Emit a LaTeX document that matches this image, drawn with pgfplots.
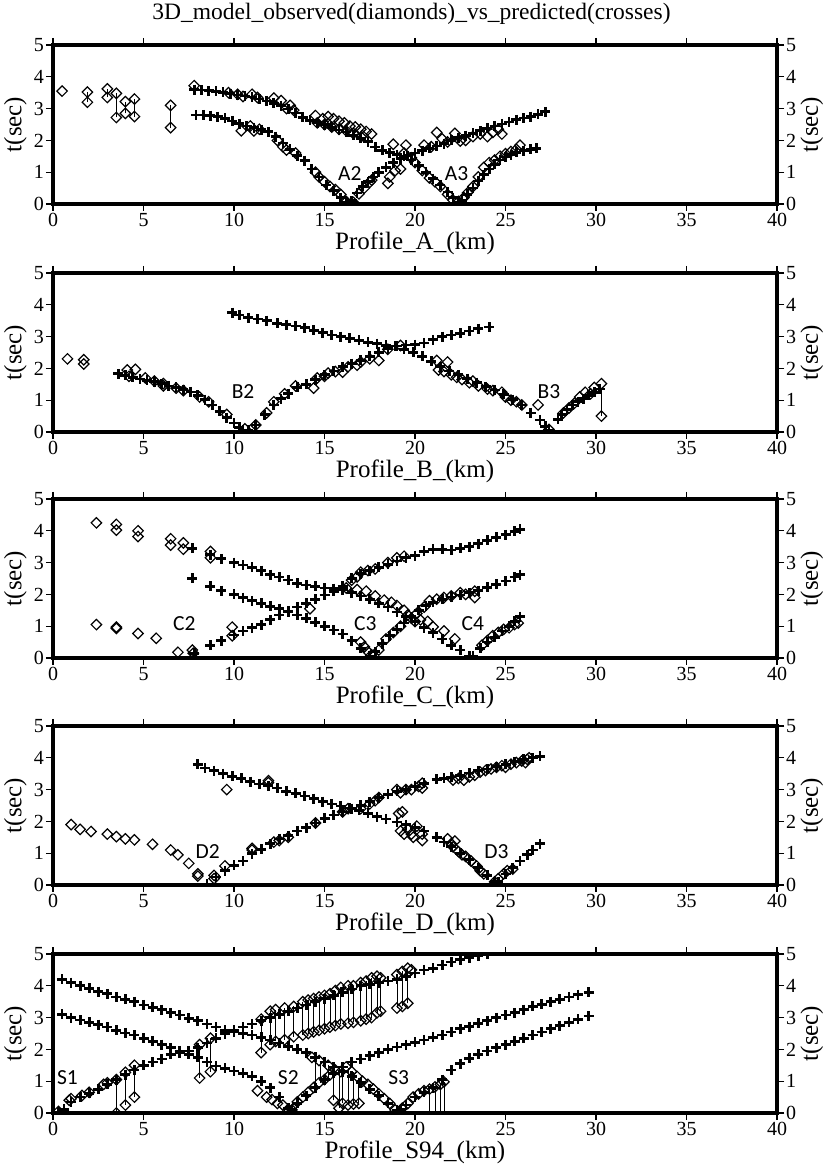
\documentclass[border=0pt]{standalone}
\usepackage{pgfplots}
\pgfplotsset{compat=1.18}
\usepackage{fontspec}
\setmainfont{Liberation Serif}
\newfontfamily\annotfont{Carlito}

\tikzset{tag/.style={font=\annotfont\fontsize{21.5}{22}\selectfont}}
\pgfplotsset{
  panel/.style={
    scale only axis, width=724pt, height=159pt,
    xmin=0, xmax=40, ymin=0, ymax=5,
    xtick={0,5,...,40}, ytick={0,1,...,5},
    tick align=outside,
    major tick length=7pt,
    every tick/.style={black, line width=1.2pt},
    axis line style={line width=3.5pt},
    /pgf/number format/assume math mode=true,
    tick label style={font=\rmfamily\fontsize{20}{20}\selectfont, inner sep=2pt},
    label style={font=\rmfamily\fontsize{25}{26}\selectfont},
    ylabel={t(sec)},
    ylabel style={at={(axis description cs:-0.052,0.5)}, anchor=center},
    xlabel style={at={(axis description cs:0.5,-0.25)}, anchor=center},
    clip marker paths=true,
  },
  rightside/.style={panel, axis x line=none, axis y line*=right,
    ylabel style={at={(axis description cs:1.048,0.5)}, anchor=center}},
  cross/.style={only marks, mark=+, mark size=5pt,
    mark options={line width=2.7pt}, black},
  diam/.style={only marks, mark=square, mark size=3.7pt,
    mark options={rotate=45, line width=1.2pt}, black},
  stick/.style={black, line width=0.8pt, unbounded coords=jump, mark=none},
}

\begin{document}
\begin{tikzpicture}
\useasboundingbox (0,0) rectangle (823pt,1164pt);
\node[font=\fontsize{23.5}{24}\selectfont] at (411.5pt,1150pt)
  {3D\_model\_observed(diamonds)\_vs\_predicted(crosses)};

% ---------------- Profile A ----------------
\begin{axis}[panel, at={(53pt,960pt)}, anchor=south west, xlabel={Profile\_A\_(km)}]
\addplot[stick] coordinates {(1.9,3.2)(1.9,3.52)(nan,nan)(3.0,3.35)(3.0,3.62)(nan,nan)
 (3.5,2.72)(3.5,3.48)(nan,nan)(4.0,2.85)(4.0,3.22)(nan,nan)(4.5,2.75)(4.5,3.3)(nan,nan)(6.5,2.4)(6.5,3.1)};
\addplot[diam] coordinates {
 (0.5,3.55)(1.9,3.52)(1.9,3.2)(3.0,3.62)(3.0,3.35)(3.5,3.48)(3.5,2.72)(4.0,3.22)(4.0,2.85)(4.5,3.3)(4.5,2.75)(6.5,3.1)(6.5,2.4)
 (7.8,3.72)(9.7,3.5)(10.2,3.45)(10.5,3.38)(11.0,3.45)(11.3,3.35)(12.2,3.33)(12.6,3.25)(13.1,3.1)(12.9,3.0)(13.3,2.95)
 (14.5,2.78)(14.9,2.68)(15.2,2.75)(15.5,2.68)(15.8,2.6)(16.1,2.55)(16.4,2.45)(16.7,2.42)(17.0,2.35)(17.3,2.28)(17.6,2.2)
 (14.6,2.55)(15.0,2.5)(15.4,2.42)(15.8,2.35)(16.2,2.3)(16.6,2.22)(17.1,2.15)
 (10.4,2.3)(10.9,2.45)(11.1,2.3)(11.4,2.35)(12.4,2.0)(12.7,1.8)(12.9,1.7)(13.4,1.6)(14.5,1.0)(14.7,0.85)(15.0,0.7)
 (15.3,0.55)(15.6,0.45)(15.9,0.3)(16.2,0.08)(16.6,0.05)(16.9,0.32)(17.2,0.5)(17.5,0.68)(17.6,0.75)(18.5,0.65)(18.6,0.85)
 (18.8,1.88)(18.9,1.05)(19.2,1.1)(19.5,1.85)(19.4,1.6)(19.8,1.45)(20.0,1.3)(20.4,1.05)(20.8,0.82)(21.1,0.7)(21.4,0.55)
 (21.8,0.3)(22.1,0.12)(22.4,0.08)(22.7,0.2)(22.9,0.35)(23.2,0.55)(23.5,0.85)(23.8,1.15)(24.1,1.3)(24.4,1.38)(24.7,1.5)
 (25.0,1.58)(25.3,1.65)(25.8,1.85)(25.6,1.72)
 (20.5,1.85)(20.9,1.8)(21.2,2.25)(21.5,2.05)(21.8,1.95)(22.2,2.22)(22.5,1.98)(22.8,2.0)(23.2,2.12)(23.6,2.2)(24.0,2.12)
 (24.3,2.25)(24.6,2.35)(24.8,2.2)};
\addplot[cross] coordinates {
 (7.8,3.6)(8.2,3.58)(8.6,3.56)(9.0,3.54)(9.4,3.51)(9.8,3.47)(10.2,3.43)(10.6,3.4)(11.0,3.36)(11.4,3.3)(11.8,3.24)
 (12.2,3.17)(12.6,3.09)(13.0,2.99)(13.4,2.86)(13.8,2.73)(14.2,2.63)(14.6,2.56)(15.0,2.49)(15.4,2.41)(15.8,2.33)(16.2,2.26)
 (16.6,2.16)(17.0,2.06)(17.4,1.96)(17.8,1.79)(18.2,1.69)(18.6,1.61)(19.0,1.55)(19.4,1.5)(19.8,1.38)(20.2,1.2)(20.6,1.0)
 (21.0,0.8)(21.4,0.6)(21.8,0.38)(22.1,0.2)(22.4,0.05)
 (7.9,2.8)(8.3,2.8)(8.7,2.78)(9.1,2.75)(9.5,2.69)(9.9,2.61)(10.3,2.53)(10.7,2.45)(11.1,2.4)(11.5,2.34)(11.9,2.27)
 (12.3,2.12)(12.7,1.92)(13.1,1.72)(13.5,1.52)(13.9,1.36)(14.3,1.1)(14.7,0.85)(15.1,0.6)(15.5,0.42)(15.9,0.2)(16.2,0.05)
 (16.5,0.1)(16.8,0.35)(17.1,0.55)(17.4,0.7)(17.7,0.85)(18.0,1.0)(18.4,1.15)(18.8,1.3)(19.2,1.42)(19.6,1.52)(20.0,1.6)
 (20.4,1.68)(20.8,1.75)(21.2,1.82)(21.6,1.9)(22.0,2.0)(22.4,2.08)(22.8,2.15)(23.2,2.22)(23.6,2.3)(24.0,2.38)(24.4,2.45)
 (24.8,2.52)(25.2,2.58)(25.6,2.65)(26.0,2.7)(26.4,2.75)(26.8,2.82)(27.2,2.9)
 (22.6,0.12)(22.9,0.3)(23.2,0.5)(23.5,0.72)(23.8,0.92)(24.1,1.1)(24.4,1.25)(24.7,1.38)(25.0,1.48)(25.3,1.55)(25.6,1.62)
 (26.0,1.68)(26.4,1.72)(26.7,1.75)};
\node[tag] at (axis cs:16.4,0.95) {A2};
\node[tag] at (axis cs:22.3,0.95) {A3};
\end{axis}
\begin{axis}[rightside, at={(53pt,960pt)}, anchor=south west]\end{axis}

% ---------------- Profile B ----------------
\begin{axis}[panel, at={(53pt,732pt)}, anchor=south west, xlabel={Profile\_B\_(km)}]
\addplot[stick] coordinates {(30.3,0.5)(30.3,1.35)};
\addplot[diam] coordinates {
 (0.8,2.3)(1.7,2.27)(1.7,2.14)
 (4.1,1.95)(4.55,1.97)(4.2,1.75)(5.1,1.7)(5.6,1.6)(6.1,1.52)(6.1,1.45)(6.8,1.38)(7.2,1.3)(8.1,1.1)(8.6,0.95)(9.6,0.55)
 (10.6,0.1)(11.2,0.22)
 (12.2,0.95)(11.8,0.6)(12.8,1.2)(13.4,1.45)(14.4,1.38)(14.6,1.7)(15.0,1.75)(15.2,1.85)(15.6,1.9)(16.0,1.88)(16.3,2.05)
 (16.8,2.1)(17.0,2.2)(17.5,2.3)(18.0,2.25)(18.5,2.6)(19.2,2.72)
 (21.2,2.25)(21.8,2.2)(21.3,1.95)(21.6,1.9)(22.0,1.8)(22.3,1.72)(22.6,1.65)(23.0,1.55)(23.2,1.6)(23.5,1.45)(24.0,1.35)
 (24.3,1.3)(24.8,1.25)(25.0,1.1)(25.3,1.0)(25.6,0.95)(25.9,0.85)(26.8,0.85)(27.4,0.08)
 (28.2,0.6)(28.5,0.75)(28.8,0.9)(29.1,1.1)(29.4,1.25)(29.7,1.2)(29.9,1.4)(30.3,1.52)(30.3,0.5)};
\addplot[cross] coordinates {
 (3.6,1.83)(4.0,1.78)(4.4,1.72)(4.8,1.67)(5.2,1.62)(5.6,1.58)(6.0,1.52)(6.4,1.45)(6.8,1.4)(7.2,1.33)(7.6,1.26)(8.0,1.15)
 (8.4,1.02)(8.8,0.85)(9.2,0.65)(9.6,0.45)(10.0,0.28)(10.3,0.15)(10.5,0.05)
 (10.8,0.05)(11.2,0.22)(11.7,0.55)(12.2,0.85)(12.6,1.05)(13.0,1.2)(13.5,1.4)(14.0,1.5)(14.5,1.65)(15.0,1.8)(15.5,1.92)
 (16.0,2.05)(16.5,2.15)(17.0,2.25)(17.5,2.38)(18.0,2.5)(18.5,2.62)(19.0,2.7)(19.5,2.74)(20.0,2.75)(20.5,2.8)(21.0,2.9)
 (21.5,3.0)(22.0,3.05)(22.5,3.1)(23.0,3.18)(23.5,3.25)(24.1,3.3)
 (9.9,3.75)(10.3,3.68)(10.8,3.6)(11.3,3.55)(11.8,3.5)(12.4,3.42)(12.9,3.38)(13.4,3.33)(13.9,3.28)(14.4,3.2)(14.9,3.12)
 (15.4,3.05)(15.9,3.0)(16.4,2.95)(16.9,2.88)(17.4,2.82)(17.9,2.78)(18.4,2.72)(18.9,2.7)(19.4,2.6)(19.9,2.5)(20.4,2.38)
 (20.9,2.22)(21.4,2.05)(21.9,1.92)(22.4,1.8)(22.9,1.68)(23.4,1.55)(23.9,1.42)(24.4,1.32)(24.9,1.18)(25.4,1.02)(25.9,0.85)
 (26.4,0.6)(26.9,0.38)(27.2,0.18)(27.4,0.05)
 (27.9,0.4)(28.1,0.55)(28.4,0.7)(28.7,0.85)(29.0,0.95)(29.3,1.05)(29.6,1.15)(29.9,1.25)(30.2,1.35)};
\node[tag] at (axis cs:10.5,1.26) {B2};
\node[tag] at (axis cs:27.4,1.26) {B3};
\end{axis}
\begin{axis}[rightside, at={(53pt,732pt)}, anchor=south west]\end{axis}

% ---------------- Profile C ----------------
\begin{axis}[panel, at={(53pt,506pt)}, anchor=south west, xlabel={Profile\_C\_(km)}]
\addplot[diam] coordinates {
 (2.4,4.25)(3.5,4.2)(3.5,4.02)(4.7,4.0)(4.7,3.82)(6.5,3.75)(6.5,3.55)(7.2,3.62)(7.2,3.42)(8.7,3.35)(8.7,3.15)
 (2.4,1.05)(3.5,0.97)(3.5,0.93)(4.7,0.77)(5.7,0.62)(6.9,0.18)(7.7,0.25)(7.75,0.15)
 (9.9,0.97)(9.9,0.7)(14.2,1.55)(16.5,2.45)(16.8,2.55)(17.0,2.7)(17.4,2.75)(17.8,2.8)(18.5,3.0)(19.0,3.15)(19.4,3.2)
 (16.2,2.2)(16.8,2.15)(17.3,2.1)(17.8,1.95)(18.3,1.82)(18.7,1.75)(19.0,1.65)(19.4,1.5)(19.6,1.35)(19.8,1.25)(20.0,1.15)
 (20.3,1.2)(20.7,1.15)(21.0,0.98)(21.6,0.85)(22.2,0.6)
 (17.0,0.5)(17.2,0.35)(17.4,0.2)(17.6,0.1)(18.0,0.25)(18.4,0.6)(18.8,0.8)(19.2,1.0)(20.1,1.4)(20.5,1.6)(20.8,1.8)
 (21.2,1.85)(21.6,1.9)(22.0,1.95)(22.5,2.05)(22.8,2.0)(23.3,2.1)(23.3,1.9)
 (23.7,0.4)(24.0,0.55)(24.3,0.7)(24.6,0.8)(24.9,0.9)(25.2,0.95)(25.5,1.05)(25.7,1.1)};
\addplot[cross] coordinates {
 (7.7,3.45)(8.7,3.25)(9.3,3.12)(10.0,3.0)(10.5,2.92)(11.0,2.85)(11.5,2.75)(12.0,2.62)(12.5,2.55)(13.0,2.45)(13.5,2.35)
 (14.0,2.3)(14.5,2.25)(15.0,2.2)(15.5,2.18)(16.0,2.15)(16.5,2.05)(17.0,1.95)(17.5,1.85)(18.0,1.72)(18.5,1.6)(19.0,1.45)
 (19.5,1.3)(20.0,1.15)(20.5,0.95)(21.0,0.8)(21.5,0.6)(22.0,0.4)(22.5,0.25)(23.0,0.05)
 (7.7,2.5)(8.7,2.25)(9.3,2.12)(10.0,2.0)(10.5,1.9)(11.0,1.8)(11.5,1.72)(12.0,1.62)(12.5,1.55)(13.0,1.45)(13.5,1.35)
 (14.0,1.25)(14.5,1.12)(15.0,1.0)(15.5,0.88)(16.0,0.75)(16.5,0.55)(17.0,0.3)(17.5,0.05)
 (7.8,0.15)(8.7,0.4)(9.3,0.55)(10.0,0.72)(10.5,0.85)(11.0,0.95)(11.5,1.05)(12.0,1.2)(12.5,1.35)(13.0,1.48)(13.5,1.6)
 (14.0,1.72)(14.5,1.85)(15.0,1.98)(15.5,2.1)(16.0,2.25)(16.5,2.5)(17.0,2.65)(17.5,2.75)(18.0,2.85)(18.5,2.95)(19.0,3.05)
 (19.5,3.15)(20.0,3.22)(20.5,3.35)(21.0,3.42)(21.5,3.42)(22.0,3.4)(22.5,3.45)(23.0,3.5)(23.5,3.6)(24.0,3.7)(24.5,3.8)
 (25.0,3.88)(25.5,3.98)(25.8,4.05)
 (17.8,0.2)(18.2,0.45)(18.6,0.7)(19.0,0.9)(19.4,1.1)(19.8,1.3)(20.2,1.5)(20.6,1.65)(21.0,1.75)(21.5,1.85)(22.0,1.92)
 (22.5,1.98)(23.0,2.05)(23.5,2.12)(24.0,2.22)(24.5,2.32)(25.0,2.42)(25.5,2.55)(25.8,2.62)
 (23.2,0.05)(23.6,0.3)(24.0,0.5)(24.4,0.65)(24.8,0.85)(25.2,1.0)(25.5,1.15)(25.8,1.3)};
\node[tag] at (axis cs:7.25,1.07) {C2};
\node[tag] at (axis cs:17.25,1.07) {C3};
\node[tag] at (axis cs:23.2,1.07) {C4};
\end{axis}
\begin{axis}[rightside, at={(53pt,506pt)}, anchor=south west]\end{axis}

% ---------------- Profile D ----------------
\begin{axis}[panel, at={(53pt,279pt)}, anchor=south west, xlabel={Profile\_D\_(km)}]
\addplot[diam] coordinates {
 (1.0,1.9)(1.5,1.75)(2.1,1.68)(3.0,1.6)(3.5,1.52)(4.0,1.45)(4.5,1.42)(5.5,1.28)(6.5,1.1)(6.9,0.95)(7.5,0.68)(8.0,0.35)
 (8.0,0.28)(8.9,0.3)(8.9,0.2)(9.5,0.6)(9.6,3.0)(11.9,3.28)(11.9,3.22)
 (11.0,1.1)(11.0,1.15)(12.2,1.35)(12.5,1.4)(13.0,1.5)(14.5,1.95)(16.0,2.3)(16.3,2.4)(17.0,2.4)(17.5,2.55)(17.8,2.65)
 (18.0,2.75)(19.0,3.0)(19.2,2.9)(19.5,3.0)(19.8,3.0)(20.2,3.1)(20.4,3.05)(20.4,3.2)
 (19.1,2.25)(19.3,2.3)(19.2,1.7)(19.4,1.6)(19.6,1.75)(19.8,1.6)(19.9,1.5)(20.1,1.85)(20.4,1.4)(20.4,1.6)
 (21.8,1.45)(22.0,1.3)(22.2,1.38)(22.1,1.2)(22.4,1.05)(22.6,0.95)(22.8,0.9)(23.1,0.75)(23.4,0.6)(23.6,0.45)(23.8,0.35)
 (24.4,0.1)(24.6,0.2)(24.9,0.35)(25.1,0.45)(25.4,0.5)
 (22.1,3.3)(22.4,3.35)(22.7,3.3)(23.0,3.4)(23.3,3.45)(23.6,3.55)(23.9,3.6)(24.2,3.65)(24.5,3.7)(24.8,3.75)(25.0,3.7)
 (25.3,3.8)(25.6,3.85)(25.9,3.9)(26.1,3.85)(26.2,3.95)(26.3,4.0)};
\addplot[cross] coordinates {
 (8.0,3.8)(8.4,3.68)(8.9,3.6)(9.4,3.5)(9.9,3.42)(10.4,3.35)(10.9,3.25)(11.4,3.18)(11.9,3.12)(12.4,3.05)(12.9,2.95)
 (13.4,2.88)(13.9,2.8)(14.4,2.72)(14.9,2.62)(15.4,2.55)(15.9,2.48)(16.4,2.42)(16.9,2.35)(17.4,2.25)(17.9,2.15)(18.4,2.08)
 (19.0,1.98)(19.5,1.9)(20.0,1.8)(20.5,1.7)(21.2,1.5)(21.6,1.35)(22.0,1.2)(22.5,1.0)(23.0,0.8)(23.5,0.55)(24.0,0.3)(24.4,0.1)
 (8.5,0.03)(9.0,0.25)(9.5,0.45)(10.0,0.62)(10.5,0.75)(11.0,0.98)(11.5,1.12)(12.0,1.3)(12.5,1.45)(13.0,1.55)(13.5,1.7)
 (14.0,1.8)(14.5,1.95)(15.0,2.1)(15.5,2.2)(16.0,2.3)(16.5,2.4)(17.0,2.5)(17.5,2.62)(18.0,2.75)(18.5,2.85)(19.0,2.95)
 (19.5,3.0)(20.0,3.1)(20.5,3.2)(21.2,3.32)(21.6,3.35)(22.0,3.4)(22.5,3.45)(23.0,3.52)(23.5,3.6)(24.0,3.65)(24.5,3.72)
 (25.0,3.8)(25.5,3.88)(26.0,3.95)(26.5,4.0)(26.9,4.05)
 (24.6,0.1)(25.0,0.35)(25.4,0.55)(25.8,0.75)(26.2,0.95)(26.5,1.1)(26.9,1.3)};
\node[tag] at (axis cs:8.55,1.05) {D2};
\node[tag] at (axis cs:24.5,1.05) {D3};
\end{axis}
\begin{axis}[rightside, at={(53pt,279pt)}, anchor=south west]\end{axis}

% ---------------- Profile S94 ----------------
\begin{axis}[panel, at={(53pt,51pt)}, anchor=south west, xlabel={Profile\_S94\_(km)}]
\addplot[stick] coordinates {
 (3.5,0)(3.5,1.05)(nan,nan)(4.0,0.25)(4.0,1.28)(nan,nan)(4.5,0.5)(4.5,1.5)(nan,nan)
 (8.1,1.1)(8.1,2.15)(nan,nan)(8.7,1.3)(8.7,2.35)(nan,nan)
 (11.5,1.9)(11.5,2.95)(nan,nan)(12.0,2.15)(12.0,3.2)(nan,nan)(12.3,2.25)(12.3,3.25)(nan,nan)(12.8,2.3)(12.8,3.3)(nan,nan)
 (13.3,2.4)(13.3,3.35)(nan,nan)(13.8,2.45)(13.8,3.5)(nan,nan)(14.1,2.5)(14.1,3.55)(nan,nan)(14.4,2.55)(14.4,3.6)(nan,nan)
 (14.7,2.6)(14.7,3.65)(nan,nan)(15.0,2.65)(15.0,3.7)(nan,nan)(15.3,2.7)(15.3,3.75)(nan,nan)(15.6,2.75)(15.6,3.85)(nan,nan)
 (15.9,2.8)(15.9,3.95)(nan,nan)(16.3,2.82)(16.3,4.0)(nan,nan)(16.6,2.85)(16.6,4.0)(nan,nan)(17.0,2.9)(17.0,4.1)(nan,nan)
 (17.3,2.95)(17.3,4.15)(nan,nan)(17.6,3.0)(17.6,4.25)(nan,nan)(17.9,3.15)(17.9,4.3)(nan,nan)(18.1,3.2)(18.1,4.25)(nan,nan)
 (19.0,3.3)(19.0,4.35)(nan,nan)(19.3,3.35)(19.3,4.45)(nan,nan)(19.6,3.45)(19.6,4.55)(nan,nan)
 (14.5,0.8)(14.5,1.7)(nan,nan)(14.8,0.95)(14.8,1.6)(nan,nan)(15.2,1.1)(15.2,1.5)(nan,nan)
 (15.5,0.4)(15.5,1.25)(nan,nan)(15.8,0.15)(15.8,1.4)(nan,nan)(16.0,0.3)(16.0,1.45)(nan,nan)(16.3,0.25)(16.3,1.4)(nan,nan)
 (16.6,0.28)(16.6,1.3)(nan,nan)(16.9,0.3)(16.9,1.1)(nan,nan)
 (20.8,0)(20.8,0.75)(nan,nan)(21.1,0)(21.1,0.82)(nan,nan)(21.4,0)(21.4,0.9)(nan,nan)(21.6,0)(21.6,0.98)};
\addplot[diam] coordinates {
 (0.3,0.05)(0.9,0.4)(1.0,0.45)(1.6,0.55)(2.0,0.65)(2.8,0.9)(3.0,0.95)(3.5,1.05)(3.5,0.0)(4.0,1.28)(4.0,0.25)(4.5,1.5)
 (4.5,0.5)(8.1,2.15)(8.1,1.1)(8.7,2.35)(8.7,1.3)
 (11.5,2.95)(12.0,3.2)(12.3,3.25)(12.8,3.3)(13.3,3.35)(13.8,3.5)(14.1,3.55)(14.4,3.6)(14.7,3.65)(15.0,3.7)(15.3,3.75)
 (15.6,3.85)(15.9,3.95)(16.3,4.0)(16.6,4.0)(17.0,4.1)(17.3,4.15)(17.6,4.25)(17.9,4.3)(18.1,4.25)(19.0,4.35)(19.3,4.45)
 (19.6,4.55)(19.8,4.5)
 (11.5,1.9)(12.0,2.15)(12.3,2.25)(12.8,2.3)(13.3,2.4)(13.8,2.45)(14.1,2.5)(14.4,2.55)(14.7,2.6)(15.0,2.65)(15.3,2.7)
 (15.6,2.75)(15.9,2.8)(16.3,2.82)(16.6,2.85)(17.0,2.9)(17.3,2.95)(17.6,3.0)(17.9,3.15)(18.1,3.2)(19.0,3.3)(19.3,3.35)(19.6,3.45)
 (11.3,0.7)(11.8,0.5)(12.1,0.42)(12.4,0.3)(12.7,0.25)(13.0,0.12)(13.2,0.1)(13.5,0.35)(13.8,0.5)(14.1,0.65)(14.4,0.8)
 (14.7,0.95)(15.0,1.05)(15.3,1.2)(15.6,1.35)(15.9,1.3)(16.2,1.45)
 (14.3,1.75)(14.7,1.65)(15.2,1.5)(16.5,1.3)(16.8,1.15)(17.1,1.0)(17.4,0.9)(17.7,0.75)(18.0,0.6)(18.3,0.45)(18.6,0.3)(18.9,0.1)
 (15.5,0.4)(15.8,0.15)(16.0,0.3)(16.3,0.25)(16.6,0.28)(16.9,0.3)
 (19.3,0.15)(19.6,0.3)(19.9,0.5)(20.2,0.6)(20.5,0.7)(20.8,0.75)(21.1,0.82)(21.4,0.9)(21.6,0.98)};
\addplot[cross] coordinates {
 (0.5,4.2)(1.0,4.1)(1.5,4.0)(2.0,3.92)(2.5,3.82)(3.0,3.75)(3.5,3.65)(4.0,3.58)(4.5,3.5)(5.0,3.4)(5.5,3.32)(6.0,3.25)
 (6.5,3.15)(7.0,3.08)(7.5,2.98)(8.0,2.9)(8.5,2.8)(9.0,2.7)(9.5,2.6)(10.0,2.55)(10.5,2.5)(11.0,2.45)(11.5,2.38)(12.0,2.3)
 (12.5,2.2)(13.0,2.1)(13.5,2.0)(14.0,1.9)(14.5,1.75)(15.0,1.6)(15.5,1.45)(16.0,1.3)(16.5,1.15)(17.0,0.95)(17.5,0.75)
 (18.0,0.55)(18.5,0.3)(19.0,0.08)
 (0.5,3.1)(1.0,3.0)(1.5,2.92)(2.0,2.85)(2.5,2.78)(3.0,2.7)(3.5,2.6)(4.0,2.52)(4.5,2.45)(5.0,2.35)(5.5,2.25)(6.0,2.15)
 (6.5,2.05)(7.0,1.95)(7.5,1.85)(8.0,1.75)(8.5,1.6)(9.0,1.48)(9.5,1.4)(10.0,1.32)(10.5,1.25)(11.0,1.15)(11.5,1.0)(12.0,0.8)
 (12.5,0.5)(13.0,0.15)
 (0.3,0.02)(0.6,0.12)(1.0,0.35)(1.5,0.5)(2.0,0.62)(2.5,0.75)(3.0,0.9)(3.5,1.05)(4.0,1.2)(4.5,1.35)(5.0,1.5)(5.5,1.6)
 (6.0,1.7)(6.5,1.85)(7.0,1.9)(7.5,1.95)(8.0,2.05)(8.5,2.2)(9.0,2.35)(9.5,2.5)(10.0,2.6)(10.5,2.7)(11.0,2.8)(11.5,2.9)
 (12.0,3.0)(12.5,3.1)(13.0,3.2)(13.5,3.3)(14.0,3.4)(14.5,3.5)(15.0,3.6)(15.5,3.7)(16.0,3.8)(16.5,3.9)(17.0,4.0)(17.5,4.05)
 (18.0,4.1)(18.5,4.15)(19.0,4.2)(19.5,4.3)(20.0,4.4)(20.5,4.5)(21.0,4.55)(21.5,4.65)(22.0,4.75)(22.5,4.82)(23.0,4.88)
 (23.5,4.95)(24.0,5.0)(24.5,5.05)
 (13.2,0.1)(13.5,0.3)(14.0,0.55)(14.5,0.8)(15.0,1.05)(15.5,1.25)(16.0,1.45)(16.5,1.6)(17.0,1.7)(17.5,1.8)(18.0,1.9)
 (18.5,2.0)(19.0,2.08)(19.5,2.15)(20.0,2.22)(20.5,2.3)(21.0,2.38)(21.5,2.45)(22.0,2.55)(22.5,2.65)(23.0,2.72)(23.5,2.82)
 (24.0,2.9)(24.5,3.0)(25.0,3.08)(25.5,3.15)(26.0,3.25)(26.5,3.35)(27.0,3.42)(27.5,3.5)(28.0,3.58)(28.5,3.65)(29.0,3.72)(29.6,3.8)
 (19.2,0.1)(19.5,0.25)(20.0,0.5)(20.5,0.65)(21.0,0.8)(21.5,1.05)(22.0,1.35)(22.5,1.55)(23.0,1.72)(23.5,1.85)(24.0,1.95)
 (24.5,2.05)(25.0,2.15)(25.5,2.25)(26.0,2.35)(26.5,2.45)(27.0,2.55)(27.5,2.65)(28.0,2.75)(28.5,2.85)(29.0,2.95)(29.6,3.05)};
\node[tag] at (axis cs:0.8,1.12) {S1};
\node[tag] at (axis cs:13.0,1.12) {S2};
\node[tag] at (axis cs:19.1,1.12) {S3};
\end{axis}
\begin{axis}[rightside, at={(53pt,51pt)}, anchor=south west]\end{axis}
\end{tikzpicture}
\end{document}
